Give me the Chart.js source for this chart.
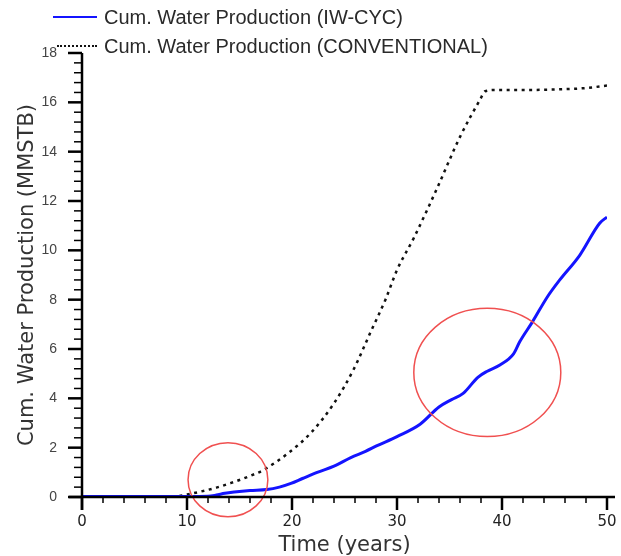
<!DOCTYPE html>
<html>
<head>
<meta charset="utf-8">
<script src="https://cdn.jsdelivr.net/npm/chart.js@4.4.1/dist/chart.umd.min.js"></script>
<style>
  body { margin: 0; background: #fff; }
  #wrap { position: relative; width: 621px; height: 556px; }
  #legend { position: absolute; left: 0; top: 0; font: 20px "Liberation Sans", Arial, sans-serif; color: #2a2a2a; }
  .row { position: absolute; white-space: nowrap; height: 22px; line-height: 22px; }
  .swatch { position: absolute; top: 10px; }
  .label { position: absolute; left: 104px; top: 0; }
</style>
</head>
<body>
<div id="wrap">
  <canvas id="chart" width="621" height="556"></canvas>
  <div id="legend"></div>
</div>
<script>
// series
var iwYears = [0, 10, 12, 12.8, 13.6, 14.5, 16, 17.6, 18.8, 19.9, 21, 22.4, 24, 25.6, 27, 28.1, 30, 32.2, 34, 35.2, 36.3, 37.7, 38.6, 39.8, 41.1, 41.7, 42.9, 44.3, 45.5, 47.4, 49.3, 50];
var iwWater = [0.02, 0.02, 0.03, 0.08, 0.15, 0.2, 0.26, 0.3, 0.4, 0.55, 0.75, 1.0, 1.25, 1.6, 1.85, 2.08, 2.45, 2.95, 3.65, 3.95, 4.2, 4.85, 5.1, 5.35, 5.8, 6.3, 7.1, 8.1, 8.8, 9.8, 11.1, 11.35];

var convYears = [0, 8.5, 10, 11.3, 12.8, 14.2, 15.8, 17.3, 19.7, 21.8, 24, 25.9, 27.5, 28.9, 30, 31.6, 33.8, 36, 37.9, 38.4, 39.5, 42, 45, 48, 50];
var convWater = [0, 0, 0.1, 0.22, 0.38, 0.57, 0.82, 1.1, 1.8, 2.6, 3.8, 5.2, 6.7, 8.0, 9.2, 10.5, 12.5, 14.6, 16.1, 16.45, 16.5, 16.5, 16.52, 16.58, 16.68];

var seriesNames = ['Cum. Water Production (IW-CYC)', 'Cum. Water Production (CONVENTIONAL)'];
var xTicks = [0, 10, 20, 30, 40, 50];
var yTicks = [0, 2, 4, 6, 8, 10, 12, 14, 16, 18];

// red hand-drawn highlights: [x, y, rx (years), ry (MMSTB)]
var highlights = [[13.9, 0.7, 3.8, 1.5], [38.6, 5.05, 7.0, 2.6]];

function pts(xs, ys) {
  return xs.map(function (x, i) { return { x: x, y: ys[i] }; });
}

var axisTicks = {
  id: 'axisTicks',
  afterDraw: function (chart) {
    var ctx = chart.ctx, xs = chart.scales.x, ys = chart.scales.y;
    var a = chart.chartArea;
    ctx.save();
    ctx.strokeStyle = '#000';
    // axis lines
    ctx.lineWidth = 2.5;
    ctx.beginPath();
    ctx.moveTo(a.left, a.top);
    ctx.lineTo(a.left, a.bottom + 13);
    ctx.moveTo(a.left - 13, a.bottom);
    ctx.lineTo(a.right + 8, a.bottom);
    ctx.stroke();
    // x ticks
    for (var t = 0; t <= 50; t += 2) {
      var px = xs.getPixelForValue(t);
      var major = t % 10 === 0;
      ctx.lineWidth = major ? 2.5 : 1.5;
      ctx.beginPath();
      ctx.moveTo(px, a.bottom);
      ctx.lineTo(px, a.bottom + (major ? 13 : 6));
      ctx.stroke();
    }
    // y ticks
    for (var k = 0; k <= 45; k++) {
      var v = k * 0.4;
      var py = ys.getPixelForValue(v);
      var maj = k % 5 === 0;
      ctx.lineWidth = maj ? 2.5 : 1.5;
      ctx.beginPath();
      ctx.moveTo(a.left, py);
      ctx.lineTo(a.left - (maj ? 14 : 8), py);
      ctx.stroke();
    }
    ctx.restore();
  }
};

var circles = {
  id: 'circles',
  afterDatasetsDraw: function (chart) {
    var ctx = chart.ctx, xs = chart.scales.x, ys = chart.scales.y;
    ctx.save();
    ctx.strokeStyle = '#f05050';
    ctx.lineWidth = 1.5;
    highlights.forEach(function (h) {
      var cx = xs.getPixelForValue(h[0]), cy = ys.getPixelForValue(h[1]);
      var rx = xs.getPixelForValue(h[0] + h[2]) - cx;
      var ry = cy - ys.getPixelForValue(h[1] + h[3]);
      ctx.beginPath();
      ctx.ellipse(cx, cy, rx, ry, 0, 0, Math.PI * 2);
      ctx.stroke();
    });
    ctx.restore();
  }
};

var ctx = document.getElementById('chart').getContext('2d');

var chart = new Chart(ctx, {
  type: 'line',
  data: {
    datasets: [{
      label: seriesNames[0],
      data: pts(iwYears, iwWater),
      borderColor: '#1414ff',
      borderWidth: 3,
      cubicInterpolationMode: 'monotone'
    }, {
      label: seriesNames[1],
      data: pts(convYears, convWater),
      borderColor: '#111',
      borderWidth: 2.5,
      borderDash: [3, 4.5],
      cubicInterpolationMode: 'monotone'
    }]
  },
  options: {
    responsive: false,
    animation: false,
    elements: { point: { radius: 0 } },
    layout: { padding: { top: 53, right: 14, bottom: 0, left: 0 } },
    plugins: { legend: { display: false }, tooltip: { enabled: false } },
    scales: {
      x: {
        type: 'linear',
        min: 0,
        max: 50,
        afterFit: function (s) { s.height = 59; s.paddingLeft = 0; s.paddingRight = 0; },
        afterBuildTicks: function (s) { s.ticks = xTicks.map(function (v) { return { value: v }; }); },
        grid: { display: false, drawTicks: false },
        border: { display: false },
        ticks: { padding: 16, color: '#222', font: { family: 'DejaVu Sans', size: 15 } },
        title: {
          display: true,
          text: 'Time (years)',
          color: '#333',
          padding: { top: 0, bottom: 0 },
          font: { family: 'DejaVu Sans', size: 21, lineHeight: 1 }
        }
      },
      y: {
        min: 0,
        max: 18,
        afterFit: function (s) { s.width = 82; },
        afterBuildTicks: function (s) { s.ticks = yTicks.map(function (v) { return { value: v }; }); },
        grid: { display: false, drawTicks: false },
        border: { display: false },
        ticks: { padding: 25, color: '#444', font: { family: 'Liberation Sans', size: 14 } },
        title: {
          display: true,
          text: 'Cum. Water Production (MMSTB)',
          color: '#333',
          padding: { top: 15, bottom: 0 },
          font: { family: 'DejaVu Sans', size: 21 }
        }
      }
    }
  },
  plugins: [axisTicks, circles]
});

// legend rows
var legend = document.getElementById('legend');
var rows = [
  { top: 6, from: 53, to: 97, style: 'border-top:2.5px solid #1414ff' },
  { top: 35, from: 57, to: 97, style: 'border-top:2px dotted #111' }
];
chart.data.datasets.forEach(function (ds, i) {
  var r = rows[i];
  var row = document.createElement('div');
  row.className = 'row';
  row.style.top = r.top + 'px';
  var sw = document.createElement('div');
  sw.className = 'swatch';
  sw.style.cssText = 'left:' + r.from + 'px;width:' + (r.to - r.from) + 'px;' + r.style;
  var lb = document.createElement('div');
  lb.className = 'label';
  lb.textContent = ds.label;
  row.appendChild(sw);
  row.appendChild(lb);
  legend.appendChild(row);
});
</script>
</body>
</html>
